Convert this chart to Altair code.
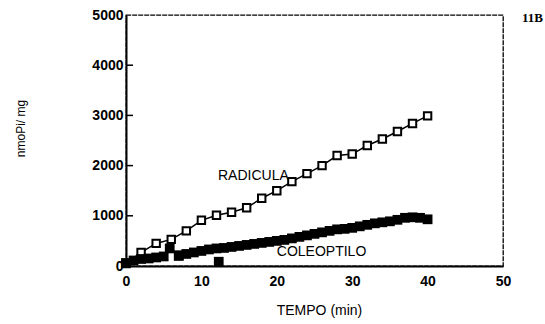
import altair as alt
import pandas as pd

# Radicula (open squares)
rad_t = [0, 2, 4, 6, 8, 10, 12, 14, 16, 18, 20, 22, 24, 26, 28, 30, 32, 34, 36, 38, 40]
rad_v = [50, 270, 450, 530, 700, 910, 1010, 1070, 1160, 1350, 1500, 1680, 1840, 2000,
         2200, 2230, 2400, 2530, 2680, 2840, 2990]

# Coleoptilo (filled squares)
col_t = [0, 1, 2, 3, 4, 5, 5.8, 7, 8, 9, 10, 11, 12, 13, 14, 15, 16, 17, 18, 19, 20,
         21, 22, 23, 24, 25, 26, 27, 28, 29, 30, 31, 32, 33, 34, 35, 36, 37, 38, 39, 40,
         7, 12.3]
col_v = [60, 110, 140, 150, 170, 190, 350, 200, 240, 270, 300, 330, 350, 360, 380, 400,
         420, 440, 460, 480, 500, 520, 550, 580, 610, 640, 670, 700, 730, 740, 760, 790,
         820, 850, 870, 890, 920, 960, 970, 960, 930, 215, 85]

y_ticks = [0, 1000, 2000, 3000, 4000, 5000]
x_ticks = [0, 10, 20, 30, 40, 50]

labels_text = ["RADICULA", "COLEOPTILO"]
labels_t = [12.2, 20.0]
labels_v = [1790, 280]

rad = pd.DataFrame({"t": rad_t, "v": rad_v})
col = pd.DataFrame({"t": col_t, "v": col_v})
lab = pd.DataFrame({"t": labels_t, "v": labels_v, "txt": labels_text})
ticks = pd.DataFrame({"v": y_ticks[1:-1]})

FONT = "Liberation Sans"

xscale = alt.Scale(domain=[0, 50], nice=False)
yscale = alt.Scale(domain=[0, 5000], nice=False)

xaxis = alt.Axis(values=x_ticks, title="TEMPO (min)", grid=False, ticks=False, format="d",
                 domainColor="black", domainWidth=2, labelFont=FONT, labelFontSize=14,
                 labelFontWeight="bold", labelColor="black", labelPadding=8,
                 titleFont=FONT, titleFontSize=14, titleFontWeight="normal",
                 titleColor="black", titleX=193, titleY=44, titleBaseline="middle",
                 labelFlush=False)
yaxis = alt.Axis(values=y_ticks, title="nmoPi/ mg", grid=False, ticks=False, format="d",
                 domainColor="black", domainWidth=2, labelFont=FONT, labelFontSize=14,
                 labelFontWeight="bold", labelColor="black", labelPadding=3,
                 titleFont=FONT, titleFontSize=12, titleFontWeight="normal",
                 titleColor="black", titleX=-106, titleY=113, titleBaseline="middle",
                 labelFlush=False)

base_x = alt.X("t:Q", scale=xscale, axis=xaxis)
base_y = alt.Y("v:Q", scale=yscale, axis=yaxis)

rad_line = alt.Chart(rad).mark_line(color="black", strokeWidth=1.5).encode(x=base_x, y=base_y)
rad_pts = alt.Chart(rad).mark_point(shape="square", filled=True, fill="white", stroke="black",
                                     strokeWidth=2, size=55, opacity=1).encode(
    x=alt.X("t:Q", scale=xscale), y=alt.Y("v:Q", scale=yscale))
col_pts = alt.Chart(col).mark_point(shape="square", filled=True, color="black",
                                     size=95, opacity=1).encode(
    x=alt.X("t:Q", scale=xscale), y=alt.Y("v:Q", scale=yscale))
txt = alt.Chart(lab).mark_text(font=FONT, fontSize=14, align="left", baseline="middle",
                                color="black").encode(
    x=alt.X("t:Q", scale=xscale), y=alt.Y("v:Q", scale=yscale), text="txt:N")
tick_rules = alt.Chart(ticks).mark_rule(color="black", strokeWidth=1.5).encode(
    y=alt.Y("v:Q", scale=yscale), x=alt.value(0), x2=alt.value(7))
corner = alt.Chart(pd.DataFrame({"s": ["11B"]})).mark_text(
    font="Liberation Serif", fontSize=13, fontWeight="bold", align="left",
    baseline="middle", color="black").encode(x=alt.value(396), y=alt.value(3), text="s:N")

chart = alt.layer(rad_line, rad_pts, col_pts, txt, tick_rules, corner).properties(
    width=377, height=251,
    autosize=alt.AutoSizeParams(type="none"),
    padding={"left": 126, "top": 15, "right": 42, "bottom": 58},
    background="white",
).configure_view(stroke="black", strokeWidth=1.3, strokeDash=[5, 1])

chart.save("out.html", embed_options={"renderer": "svg", "actions": False})
